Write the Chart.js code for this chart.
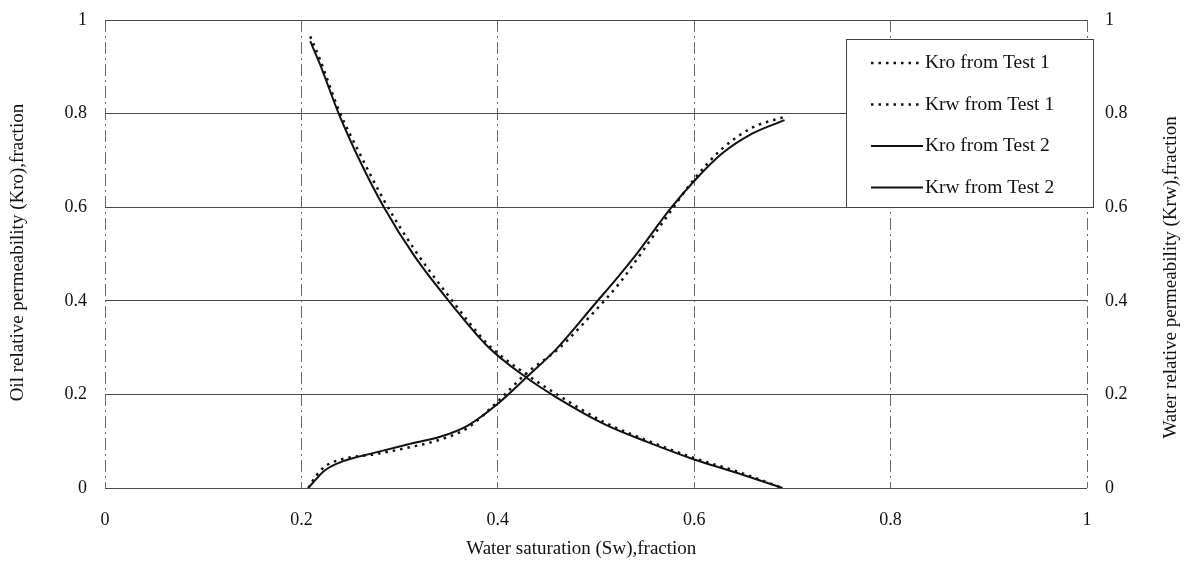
<!DOCTYPE html>
<html lang="en">
<head>
<meta charset="UTF-8">
<title>Relative permeability - Test 1 vs Test 2</title>
<script src="https://cdn.jsdelivr.net/npm/chart.js"></script>
<style>
  html, body { margin: 0; padding: 0; background: #fff; }
  #chart { display: block; }
</style>
</head>
<body>
<canvas id="chart" width="1192" height="565"></canvas>
<script>
// water saturation points for each curve pair
const swKro = [0.209, 0.219, 0.238, 0.260, 0.284, 0.315, 0.350, 0.390, 0.429, 0.458, 0.509, 0.554, 0.600, 0.644, 0.690];
const kroTest1 = [0.965, 0.915, 0.808, 0.712, 0.615, 0.510, 0.410, 0.307, 0.243, 0.203, 0.140, 0.100, 0.064, 0.035, 0.0];
const kroTest2 = [0.955, 0.905, 0.800, 0.697, 0.600, 0.496, 0.400, 0.302, 0.236, 0.196, 0.136, 0.097, 0.061, 0.032, 0.0];

const swKrw = [0.207, 0.215, 0.224, 0.242, 0.274, 0.308, 0.342, 0.369, 0.400, 0.429, 0.461, 0.498, 0.524, 0.538, 0.577, 0.600, 0.628, 0.659, 0.692];
const krwTest1 = [0.0, 0.026, 0.046, 0.062, 0.072, 0.086, 0.104, 0.128, 0.185, 0.245, 0.296, 0.376, 0.438, 0.478, 0.594, 0.660, 0.724, 0.770, 0.793];
const krwTest2 = [0.0, 0.019, 0.038, 0.057, 0.075, 0.093, 0.110, 0.133, 0.180, 0.236, 0.300, 0.391, 0.455, 0.491, 0.600, 0.656, 0.714, 0.757, 0.786];

const axisTicks = [0, 0.2, 0.4, 0.6, 0.8, 1];

const xTitle = 'Water saturation (Sw),fraction';
const yTitle = 'Oil relative permeability (Kro),fraction';
const y1Title = 'Water relative permeability (Krw),fraction';

const FONT = '"Liberation Serif", "Times New Roman", serif';
const INK = '#111';

const pts = (xs, ys) => xs.map((x, i) => ({ x: x, y: ys[i] }));
const tickLabel = v => String(Math.round(v * 10) / 10);

// fixed side widths, and no extra room above/below for the end labels
const fitSide = s => { s.width = 105; s.paddingTop = 0; s.paddingBottom = 0; };

// axis titles (right one reads bottom-to-top like the left one)
const axisTitles = {
  id: 'axisTitles',
  afterDraw(chart) {
    const ctx = chart.ctx;
    const a = chart.chartArea;
    ctx.save();
    ctx.fillStyle = INK;
    ctx.font = '19px ' + FONT;
    ctx.textAlign = 'center';
    ctx.textBaseline = 'middle';
    ctx.fillText(xTitle, a.left + a.width * 0.485, 549);

    ctx.save();
    ctx.translate(18, a.top + a.height * 0.497);
    ctx.rotate(-Math.PI / 2);
    ctx.fillText(yTitle, 0, 0);
    ctx.restore();

    ctx.save();
    ctx.translate(1171, a.top + a.height * 0.55);
    ctx.rotate(-Math.PI / 2);
    ctx.fillText(y1Title, 0, 0);
    ctx.restore();
    ctx.restore();
  }
};

// boxed legend sitting over the top-right of the plot
const boxLegend = {
  id: 'boxLegend',
  afterDraw(chart) {
    const ctx = chart.ctx;
    const a = chart.chartArea;
    const x0 = a.right - 241, y0 = a.top + 19, w = 247, h = 168;
    ctx.save();
    ctx.fillStyle = '#fff';
    ctx.fillRect(x0, y0, w, h);
    ctx.strokeStyle = '#444';
    ctx.lineWidth = 1;
    ctx.strokeRect(x0 + 0.5, y0 + 0.5, w, h);
    ctx.font = '19.5px ' + FONT;
    ctx.textBaseline = 'middle';
    ctx.fillStyle = INK;
    chart.data.datasets.forEach((ds, i) => {
      const cy = y0 + 24 + i * 41.5;
      ctx.beginPath();
      ctx.setLineDash(ds.borderDash || []);
      ctx.lineWidth = ds.borderWidth;
      ctx.strokeStyle = ds.borderColor;
      ctx.moveTo(x0 + 25, cy);
      ctx.lineTo(x0 + 77, cy);
      ctx.stroke();
      ctx.setLineDash([]);
      ctx.fillText(ds.label, x0 + 79, cy);
    });
    ctx.restore();
  }
};

const dotted = { borderColor: INK, borderWidth: 2.5, borderDash: [2.5, 5], pointRadius: 0, cubicInterpolationMode: 'monotone', fill: false };
const solid = { borderColor: INK, borderWidth: 2, pointRadius: 0, cubicInterpolationMode: 'monotone', fill: false };

const tickFont = { family: FONT, size: 18 };

new Chart(document.getElementById('chart'), {
  type: 'line',
  data: {
    datasets: [
      Object.assign({ label: 'Kro from Test 1', data: pts(swKro, kroTest1), yAxisID: 'y' }, dotted),
      Object.assign({ label: 'Krw from Test 1', data: pts(swKrw, krwTest1), yAxisID: 'y1' }, dotted),
      Object.assign({ label: 'Kro from Test 2', data: pts(swKro, kroTest2), yAxisID: 'y' }, solid),
      Object.assign({ label: 'Krw from Test 2', data: pts(swKrw, krwTest2), yAxisID: 'y1' }, solid)
    ]
  },
  options: {
    responsive: false,
    animation: false,
    layout: { padding: { top: 20 } },
    plugins: { legend: { display: false }, tooltip: { enabled: false } },
    scales: {
      x: {
        type: 'linear', min: 0, max: 1,
        afterBuildTicks: s => { s.ticks = axisTicks.map(v => ({ value: v })); },
        ticks: { padding: 21, color: INK, font: tickFont, callback: tickLabel },
        grid: { color: '#6a6a6a', lineWidth: 1, drawTicks: false },
        border: { display: false, dash: [12, 4, 2, 4] },
        afterFit: s => { s.height = 77; }
      },
      y: {
        position: 'left', min: 0, max: 1,
        afterBuildTicks: s => { s.ticks = axisTicks.map(v => ({ value: v })); },
        ticks: { padding: 18, color: INK, font: tickFont, callback: tickLabel },
        grid: { color: '#4a4a4a', lineWidth: 1, drawTicks: false },
        border: { display: false },
        afterFit: fitSide
      },
      y1: {
        position: 'right', min: 0, max: 1,
        afterBuildTicks: s => { s.ticks = axisTicks.map(v => ({ value: v })); },
        ticks: { padding: 18, color: INK, font: tickFont, callback: tickLabel },
        grid: { display: false, drawTicks: false },
        border: { display: false },
        afterFit: fitSide
      }
    }
  },
  plugins: [axisTitles, boxLegend]
});
</script>
</body>
</html>
